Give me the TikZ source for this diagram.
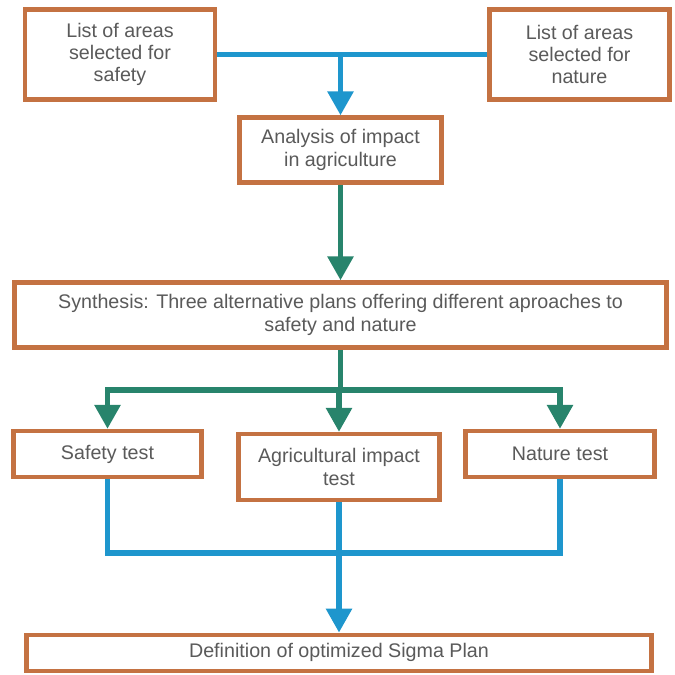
\documentclass[tikz,border=0pt]{standalone}
\usepackage{fontspec}
\setmainfont{Liberation Sans}
\usepackage{xcolor}
\usetikzlibrary{positioning,arrows.meta,calc}
\definecolor{spbrown}{RGB}{196,114,66}
\definecolor{spblue}{RGB}{30,150,205}
\definecolor{spteal}{RGB}{40,132,108}
\definecolor{sptext}{RGB}{90,90,90}
\tikzset{
  box/.style={draw=spbrown, line width=3.2pt, fill=white, align=center, text=sptext, inner sep=2pt, font=\fontsize{14}{15.8}\selectfont},
  blueline/.style={spblue, line width=3.6pt},
  tealline/.style={spteal, line width=3.6pt},
  bluearrow/.style={blueline, -{Triangle[width=18pt,length=17pt]}},
  tealarrow/.style={tealline, -{Triangle[width=18pt,length=17pt]}}
}
\begin{document}
\begin{tikzpicture}[x=0.025cm, y=-0.025cm]
    \useasboundingbox (0,0) rectangle (675,675);
    \node[box, minimum width=4.75cm, minimum height=2.25cm] (sl) at (120,54.5) {List of areas\\selected for\\safety};
    \node[box, minimum width=4.5cm, minimum height=2.25cm] (sn) at (579.5,54.5) {List of areas\\selected for\\nature};
    \node[box, minimum width=5.05cm, minimum height=1.625cm] (an) at (340.5,150) {Analysis of impact\\in agriculture};
    \node[box, minimum width=16.3cm, minimum height=1.625cm] (syn) at (340.5,315) {Synthesis: Three alternative plans offering different aproaches to\\safety and nature};
    \node[box, minimum width=4.7cm, minimum height=1.15cm] (st) at (107.5,454) {Safety test};
    \node[box, minimum width=5.025cm, minimum height=1.65cm] (ag) at (339,467) {Agricultural impact\\test};
    \node[box, minimum width=4.725cm, minimum height=1.15cm] (nt) at (560,454) {Nature test};
    \node[box, minimum width=15.625cm, minimum height=0.9cm] (def) at (339,652.75) {Definition of optimized Sigma Plan};
    \coordinate (j2) at (340.5,390);
    \coordinate (j3) at (340.5,553);
    % top: both lists feed the analysis
    \draw[blueline] (sl.east) -- (sn.west);
    \draw[bluearrow] (sl.east -| an.north) -- (an.north);
    \draw[tealarrow] (an.south) -- (syn.north);
    % split into the three tests
    \draw[tealline] (syn.south) -- (j2);
    \foreach \t in {st,ag,nt}{\draw[tealarrow] (j2) -| (\t.north);}
    % tests merge into the final plan
    \foreach \t in {st,nt}{\draw[blueline] (\t.south) |- (j3);}
    \draw[bluearrow] (ag.south) -- (def.north);
  \end{tikzpicture}
\end{document}
